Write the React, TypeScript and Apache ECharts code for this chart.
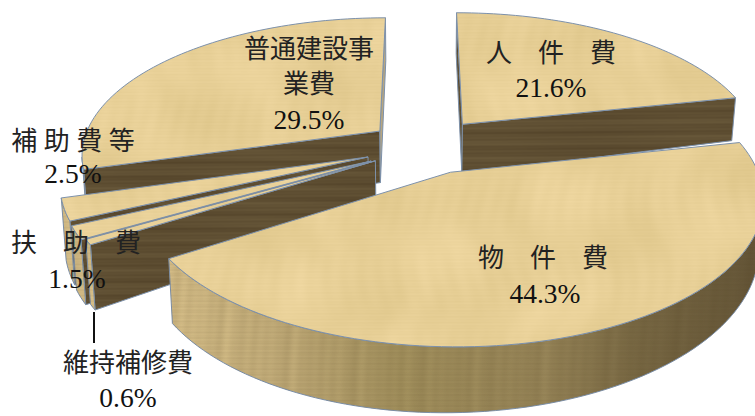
import React, { useEffect, useRef } from "react";
import * as echarts from "echarts";

// Budget shares, clockwise from twelve o'clock.
const categories = ["人　件　費", "物　件　費", "維持補修費", "扶　助　費", "補 助 費 等", "普通建設事\n業費"];
const shares = [21.6, 44.3, 0.6, 1.5, 2.5, 29.5];

// Back-to-front painting order (indexes into the arrays above).
const paintOrder = [5, 0, 4, 3, 2, 1];

// How far each slice is pulled out of the pie, in radius units on the pie plane.
const pullX = [0.146, 0.099, -0.147, -0.161, -0.172, -0.137];
const pullY = [-0.2, 0.15, 0.07, 0.072, 0.043, -0.148];

// Label anchors: name centre x/y, value centre x/y.
const labelX = [551, 543, 128, 76, 73, 309];
const nameY = [53, 258, 363, 243, 141, 67];
const valueX = [551, 545, 128, 77, 73, 309];
const valueY = [87, 293, 397, 278, 173, 119];

// Perspective camera for the disc.
const CX = 420;
const CY = 151;
const RX = 300;
const RY = 138;
const DEPTH = 53;
const DEPTH_ROLL = 0.1;
const DEPTH_PITCH = 0.07;
const PERSPECTIVE = 0.165;
const DEPTH_FALLOFF = 0.013;

const project = (x: number, y: number, z: number): [number, number] => {
  const s = 1 / (1 - PERSPECTIVE * y + DEPTH_FALLOFF * z);
  const drop = DEPTH * z * s * (1 - DEPTH_ROLL * x) * (1 + DEPTH_PITCH * y);
  return [CX + RX * x * s, CY + RY * y * s + drop];
};

const signedArea = (pts: number[][]) => {
  let a = 0;
  pts.forEach((p, i) => {
    const q = pts[(i + 1) % pts.length];
    a += p[0] * q[1] - q[0] * p[1];
  });
  return a;
};

// Builds a tileable procedural wood tile from periodic waves.
const texture = (w: number, h: number, px: (x: number, y: number) => number[]) => {
  const canvas = document.createElement("canvas");
  canvas.width = w;
  canvas.height = h;
  const ctx = canvas.getContext("2d")!;
  const img = ctx.createImageData(w, h);
  for (let y = 0; y < h; y++) {
    for (let x = 0; x < w; x++) {
      const c = px(x, y);
      const i = (y * w + x) * 4;
      img.data[i] = c[0];
      img.data[i + 1] = c[1];
      img.data[i + 2] = c[2];
      img.data[i + 3] = c.length > 3 ? c[3] : 255;
    }
  }
  ctx.putImageData(img, 0, 0);
  return canvas;
};

const TAU = Math.PI * 2;

const makeTextures = () => {
  const W = 640;
  const H = 320;
  const top = texture(W, H, (x, y) => {
    const u = (x / W) * TAU;
    const v = (y / H) * TAU;
    const patches = Math.sin(2 * u + 0.7 * Math.sin(v)) * Math.sin(3 * v + Math.sin(u));
    const d =
      3.5 * patches +
      2.2 * Math.sin(5 * u + 1.4 * Math.sin(v)) +
      1.6 * Math.sin(13 * u + 2.1 * Math.sin(2 * v)) * Math.sin(v + 2 * u) +
      1.2 * Math.sin(37 * u + 2.6 * Math.sin(2 * v + u)) * Math.sin(2 * v) +
      1.1 * Math.sin(107 * v) +
      0.8 * Math.sin(61 * v + 2 * u);
    return [231 + d, 207 + d, 150 + d * 1.3];
  });
  const dark = texture(W, H, (x, y) => {
    const u = (x / W) * TAU;
    const v = (y / H) * TAU;
    const d = 3.5 * Math.sin(19 * v + Math.sin(u)) + 3 * Math.sin(43 * v) + 2 * Math.sin(97 * v + 2 * u) + 1.5 * Math.sin(3 * u);
    return [94 + d, 78 + d, 50 + d * 0.8];
  });
  const grain = texture(W, H, (x, y) => {
    const u = (x / W) * TAU;
    const v = (y / H) * TAU;
    const a =
      0.1 +
      0.035 * Math.sin(23 * u + Math.sin(v)) * Math.sin(5 * u) +
      0.03 * Math.sin(47 * u + 2 * Math.sin(v)) * Math.sin(9 * u + 1) +
      0.02 * Math.sin(61 * v) +
      0.015 * Math.sin(113 * v);
    return [70, 52, 22, Math.max(0, a) * 255];
  });
  return { top, dark, grain };
};

export default function App() {
  const ref = useRef<HTMLDivElement>(null);

  useEffect(() => {
    const chart = echarts.init(ref.current!, undefined, { renderer: "svg" });
    const tex = makeTextures();
    const total = shares.reduce((a, b) => a + b, 0);
    const edge = "#7d91ab";

    const pattern = (image: HTMLCanvasElement) => ({ image, repeat: "repeat" });
    const rimGradient = {
      type: "linear",
      global: true,
      x: 165,
      y: 0,
      x2: 755,
      y2: 0,
      colorStops: [
        { offset: 0, color: "#dcc48d" },
        { offset: 0.2, color: "#c6b07c" },
        { offset: 0.4, color: "#a5935f" },
        { offset: 0.65, color: "#988659" },
        { offset: 0.8, color: "#7a6a45" },
        { offset: 1, color: "#665739" },
      ],
    };

    const renderSlice = (params: any) => {
      const idx = paintOrder[params.dataIndex];
      const before = shares.slice(0, idx).reduce((a, b) => a + b, 0);
      const t0 = (before / total) * TAU;
      const t1 = ((before + shares[idx]) / total) * TAU;
      const ex = pullX[idx];
      const ey = pullY[idx];
      const steps = Math.max(2, Math.ceil((t1 - t0) / 0.03));
      const angles = Array.from({ length: steps + 1 }, (_, i) => t0 + ((t1 - t0) * i) / steps);
      const rimAt = (t: number, z: number) => project(ex + Math.sin(t), ey - Math.cos(t), z);
      const tipTop = project(ex, ey, 0);
      const tipBase = project(ex, ey, 1);
      const children: any[] = [];

      // Radial cut faces; only those turned to the camera are painted.
      const radial = (t: number, sign: number) => {
        const quad = [tipTop, rimAt(t, 0), rimAt(t, 1), tipBase];
        if (signedArea(quad) * sign <= 0) return;
        const facesRight = Math.cos(t) * sign > 0.9;
        children.push({
          type: "polygon",
          shape: { points: quad },
          style: {
            fill: facesRight ? "#b7a680" : pattern(tex.dark),
            stroke: edge,
            lineWidth: 1,
          },
        });
      };
      radial(t0, -1);
      radial(t1, 1);

      // Curved rim: the stretch where the arc runs right to left on screen.
      const front = angles.filter((t, i) => {
        const next = angles[Math.min(i + 1, steps)];
        const prev = angles[Math.max(i - 1, 0)];
        return rimAt(next, 0)[0] < rimAt(prev, 0)[0];
      });
      if (front.length > 1) {
        const rim = [...front.map((t) => rimAt(t, 0)), ...[...front].reverse().map((t) => rimAt(t, 1))];
        children.push({ type: "polygon", shape: { points: rim }, style: { fill: rimGradient, stroke: edge, lineWidth: 1 } });
        children.push({ type: "polygon", shape: { points: rim }, style: { fill: pattern(tex.grain) } });
      }

      // Top face.
      children.push({
        type: "polygon",
        shape: { points: [tipTop, ...angles.map((t) => rimAt(t, 0))] },
        style: { fill: pattern(tex.top), stroke: edge, lineWidth: 1 },
      });
      return { type: "group", children };
    };

    const font = '"Liberation Serif", "Noto Sans CJK JP", serif';
    const renderLabel = (params: any) => {
      const i = params.dataIndex;
      const children: any[] = [
        {
          type: "text",
          style: {
            text: categories[i],
            x: labelX[i],
            y: nameY[i],
            align: "center",
            verticalAlign: "middle",
            fontFamily: font,
            fontSize: 26,
            lineHeight: 35,
            fill: "#222",
          },
        },
        {
          type: "text",
          style: {
            text: `${shares[i].toFixed(1)}%`,
            x: valueX[i],
            y: valueY[i],
            align: "center",
            verticalAlign: "middle",
            fontFamily: font,
            fontSize: 27.5,
            fill: "#111",
          },
        },
      ];
      return { type: "group", children };
    };

    chart.setOption({
      animation: false,
      backgroundColor: "#ffffff",
      series: [
        {
          type: "custom",
          coordinateSystem: "none",
          silent: true,
          z: 1,
          data: paintOrder.map((i) => shares[i]),
          renderItem: renderSlice,
        },
        {
          type: "custom",
          coordinateSystem: "none",
          silent: true,
          z: 3,
          data: shares,
          renderItem: renderLabel,
        },
      ],
      graphic: [
        {
          type: "line",
          z: 4,
          shape: { x1: 94, y1: 312, x2: 94, y2: 343 },
          style: { stroke: "#111", lineWidth: 2 },
        },
      ],
    });
    return () => chart.dispose();
  }, []);

  return <div ref={ref} style={{ position: "fixed", left: 0, top: 0, width: 755, height: 416 }} />;
}
